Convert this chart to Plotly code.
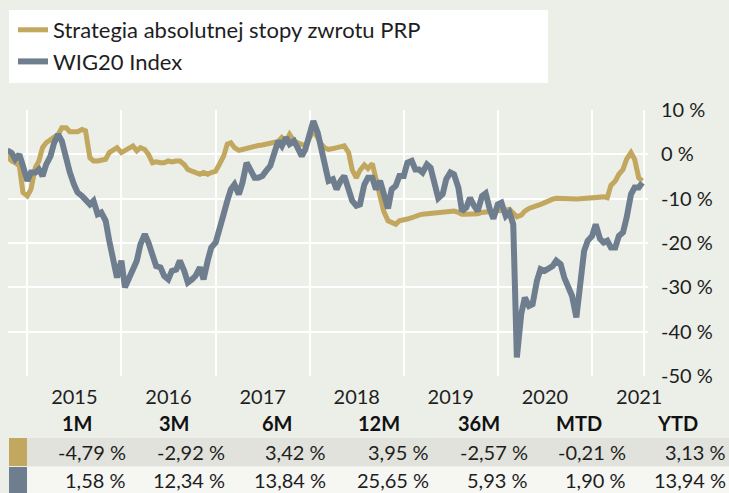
import pandas as pd
import plotly.graph_objects as go

# ---------------- data ----------------
dates = pd.date_range("2014-10-15", "2021-07-15", freq="SMS")

strategy = [
    # 2014
    -0.4, -1.5, -1.9, -2.6, -8.6,
    # 2015
    -9.4, -7.9, -3.0, -1.5, 1.5, 2.6, 3.4, 4.1, 4.5, 6.0, 6.0, 5.1,
    5.1, 5.1, 5.6, 5.3, -0.8, -1.5, -1.5, -1.4, -1.1, 0.4, 0.9, 1.5,
    # 2016
    0.4, 0.8, 1.5, 1.9, 0.8, 1.5, 1.1, 0.0, -1.9, -1.7, -1.9, -1.9,
    -1.5, -1.7, -1.5, -1.5, -2.3, -3.4, -3.8, -4.1, -4.5, -4.1, -4.5, -4.1,
    # 2017
    -3.8, -2.3, -0.4, 2.3, 2.6, 1.5, 0.9, 1.1, 1.4, 1.7, 1.8, 2.0,
    2.1, 2.3, 2.4, 2.6, 2.9, 3.8, 3.0, 4.5, 3.0, 2.6, 2.3, 1.9,
    # 2018
    3.8, 5.3, 3.8, 2.3, 1.4, 1.1, 1.3, 1.5, 1.7, 1.9, 0.4, -3.5,
    -5.3, -3.6, -2.4, -3.2, -2.1, -5.3, -9.0, -12.8, -15.0, -15.4, -15.8, -15.0,
    # 2019
    -14.9, -14.6, -14.3, -13.9, -13.7, -13.5, -13.4, -13.2, -13.1, -13.0, -12.9, -12.8,
    -12.8, -12.8, -13.1, -13.5, -13.5, -13.5, -13.5, -13.4, -13.1, -13.1, -12.9, -12.8,
    # 2020
    -12.8, -12.8, -12.6, -12.4, -13.1, -14.1, -13.7, -12.8, -12.2, -12.0, -11.6, -11.3,
    -10.9, -10.4, -10.1, -9.9, -10.0, -10.1, -10.1, -10.1, -10.1, -10.0, -9.9, -9.9,
    # 2021
    -9.8, -9.8, -9.6, -9.6, -9.8, -7.0, -6.0, -4.5, -3.4, -1.1, 0.4, -1.1, -5.3, -6.0,
]

wig20 = [
    # 2014
    0.9, 0.3, -1.1, 0.0, -2.6,
    # 2015
    -6.0, -4.1, -4.1, -3.4, -4.9, -2.3, -0.4, 2.6, 4.5, 3.0, -1.5, -4.1,
    -6.8, -8.6, -9.4, -10.5, -11.3, -10.5, -13.5, -13.1, -15.0, -19.5, -23.3, -27.8,
    # 2016
    -24.0, -30.0, -27.8, -25.5, -24.0, -20.3, -18.0, -19.9, -23.3, -25.2, -25.5, -27.4,
    -28.2, -26.3, -26.0, -24.0, -26.3, -28.9, -28.2, -27.4, -25.5, -28.2, -24.0, -21.0,
    # 2017
    -19.9, -16.5, -13.5, -10.5, -7.9, -6.8, -9.0, -6.4, -1.9, -3.4, -5.3, -5.3,
    -4.9, -3.8, -2.6, 0.0, 3.0, 1.9, 3.8, 2.3, 3.0, 1.5, -0.4, 1.1,
    # 2018
    5.3, 7.5, 4.9, 1.5, -2.3, -6.0, -5.6, -7.9, -6.0, -4.9, -7.9, -10.5,
    -11.6, -11.3, -6.8, -5.3, -5.3, -7.9, -6.0, -9.4, -12.2, -7.9, -7.1, -4.9,
    # 2019
    -4.9, -1.9, -1.5, -3.4, -3.4, -4.1, -2.3, -3.0, -6.4, -9.9, -9.0, -5.6,
    -4.1, -4.5, -7.5, -12.8, -12.0, -9.8, -11.6, -12.8, -9.4, -8.8, -12.4, -14.5,
    # 2020
    -11.3, -10.9, -13.9, -13.1, -15.8, -45.8, -36.0, -32.3, -34.2, -33.8, -28.5, -25.9,
    -26.3, -25.9, -25.2, -24.0, -24.8, -27.8, -29.7, -31.9, -36.8, -28.5, -21.8, -19.5,
    # 2021
    -18.4, -15.8, -19.1, -19.9, -19.5, -21.0, -21.0, -18.4, -17.6, -14.3, -9.0, -7.5, -7.5, -6.4,
]

series_names = ["Strategia absolutnej stopy zwrotu PRP", "WIG20 Index"]

y_ticks = [10, 0, -10, -20, -30, -40, -50]
y_tick_labels = ["10 %", "0 %", "-10 %", "-20 %", "-30 %", "-40 %", "-50 %"]

periods = ["1M", "3M", "6M", "12M", "36M", "MTD", "YTD"]
strategy_returns = ["-4,79 %", "-2,92 %", "3,42 %", "3,95 %", "-2,57 %", "-0,21 %", "3,13 %"]
wig20_returns = ["1,58 %", "12,34 %", "13,84 %", "25,65 %", "5,93 %", "1,90 %", "13,94 %"]

# ---------------- style ----------------
GOLD = "#c2a75e"
SLATE = "#6f7e8f"
BG = "#eceee8"
ROW1 = "#e0e2db"
ROW2 = "#f6f6f3"
TXT = "#1e1e1e"
FONT = "Lato"

W, H = 729, 493
L, R, T, B = 8, 648, 110, 376  # plot area in pixels


def px(x):
    return (x - L) / (R - L)


def py(y):
    return (B - y) / (B - T)


fig = go.Figure()
fig.add_trace(go.Scatter(x=dates, y=strategy, mode="lines", name=series_names[0],
                         line=dict(color=GOLD, width=5)))
fig.add_trace(go.Scatter(x=dates, y=wig20, mode="lines", name=series_names[1],
                         line=dict(color=SLATE, width=6)))

shapes = []
# legend background box
shapes.append(dict(type="rect", xref="paper", yref="paper", x0=px(9), x1=px(548),
                   y0=py(83), y1=py(10), fillcolor="white", line=dict(width=0), layer="below"))
# end-of-period vertical line
shapes.append(dict(type="line", xref="x", yref="y", x0="2021-07-22", x1="2021-07-22",
                   y0=-50, y1=10, line=dict(color="white", width=2), layer="below"))
# table rows
shapes.append(dict(type="rect", xref="paper", yref="paper", x0=px(9), x1=px(729),
                   y0=py(466), y1=py(438), fillcolor=ROW1, line=dict(width=0)))
shapes.append(dict(type="rect", xref="paper", yref="paper", x0=px(9), x1=px(729),
                   y0=py(494), y1=py(467), fillcolor=ROW2, line=dict(width=0)))
shapes.append(dict(type="rect", xref="paper", yref="paper", x0=px(9), x1=px(27),
                   y0=py(466), y1=py(438), fillcolor=GOLD, line=dict(width=0)))
shapes.append(dict(type="rect", xref="paper", yref="paper", x0=px(9), x1=px(27),
                   y0=py(494), y1=py(467), fillcolor=SLATE, line=dict(width=0)))

annotations = []
header_x = [77, 174, 277, 379, 479, 579, 677]
value_right = [128, 227, 328, 431, 530, 628, 728]
for i, p in enumerate(periods):
    annotations.append(dict(xref="paper", yref="paper", x=px(header_x[i]), y=py(423),
                            text="<b>%s</b>" % p, showarrow=False, xanchor="center", yanchor="middle",
                            font=dict(family=FONT, size=20, color="#111111")))
    annotations.append(dict(xref="paper", yref="paper", x=px(value_right[i]), y=py(452),
                            text=strategy_returns[i], showarrow=False, xanchor="right", yanchor="middle",
                            font=dict(family=FONT, size=20, color=TXT)))
    annotations.append(dict(xref="paper", yref="paper", x=px(value_right[i]), y=py(480),
                            text=wig20_returns[i], showarrow=False, xanchor="right", yanchor="middle",
                            font=dict(family=FONT, size=20, color=TXT)))

fig.update_layout(
    width=W, height=H,
    margin=dict(l=L, r=W - R, t=T, b=H - B, pad=0, autoexpand=False),
    paper_bgcolor=BG, plot_bgcolor=BG,
    font=dict(family=FONT, size=20, color=TXT),
    showlegend=True,
    legend=dict(x=px(13), y=py(9), xanchor="left", yanchor="top", bgcolor="rgba(0,0,0,0)",
                font=dict(family=FONT, size=22, color=TXT), itemwidth=30,
                tracegroupgap=0),
    shapes=shapes,
    annotations=annotations,
    xaxis=dict(type="date", range=["2014-10-18", "2021-08-06"],
               tick0="2015-01-01", dtick="M12", ticklabelmode="period", tickformat="%Y",
               tickangle=0, automargin=False,
               showgrid=True, gridcolor="white", gridwidth=2, zeroline=False, showline=False,
               ticks="", ticklabelstandoff=7, tickfont=dict(family=FONT, size=20, color=TXT)),
    yaxis=dict(side="right", range=[-50, 10], tickvals=y_ticks, ticktext=y_tick_labels,
               automargin=False,
               showgrid=True, gridcolor="white", gridwidth=2, zeroline=False, showline=False,
               ticks="", ticklabelstandoff=12, tickfont=dict(family=FONT, size=20, color=TXT)),
)

fig.write_html(
    "out.html",
    config={"displayModeBar": False},
    post_script="document.body.style.margin='0';document.body.style.overflow='hidden';",
)
